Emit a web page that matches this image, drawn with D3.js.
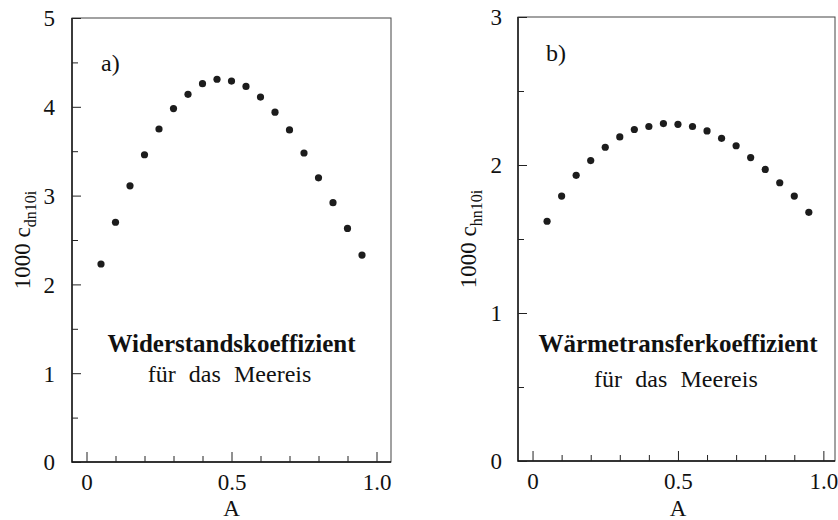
<!DOCTYPE html>
<html>
<head>
<meta charset="utf-8">
<script src="https://cdn.jsdelivr.net/npm/d3@7"></script>
<style>
  html, body { margin: 0; padding: 0; background: #fff; }
  svg { display: block; }
</style>
</head>
<body>
<svg id="chart"></svg>
<script>
const width = 838;
const height = 520;
const serif = "'Liberation Serif', 'Times New Roman', 'DejaVu Serif', serif";

// Ice concentration A (x values, shared by both panels)
const aValues = [0.05, 0.10, 0.15, 0.20, 0.25, 0.30, 0.35, 0.40, 0.45, 0.50,
  0.55, 0.60, 0.65, 0.70, 0.75, 0.80, 0.85, 0.90, 0.95];
// a) drag coefficient, 1000 c_dn10i
const dragValues = [2.23, 2.70, 3.11, 3.46, 3.75, 3.98, 4.14, 4.26, 4.31, 4.29,
  4.23, 4.11, 3.94, 3.74, 3.48, 3.20, 2.92, 2.63, 2.33];
// b) heat transfer coefficient, 1000 c_hn10i
const heatValues = [1.62, 1.79, 1.93, 2.03, 2.12, 2.19, 2.24, 2.26, 2.28, 2.275,
  2.26, 2.23, 2.18, 2.13, 2.05, 1.97, 1.88, 1.79, 1.68];

const xMajorTicks = [0, 0.5, 1.0];
const xTickLabels = ['0', '0.5', '1.0'];
const xMinorTicks = [0.1, 0.2, 0.3, 0.4, 0.6, 0.7, 0.8, 0.9];
const dragTicks = [0, 1, 2, 3, 4, 5];
const dragMinorTicks = [0.5, 1.5, 2.5, 3.5, 4.5];
const heatTicks = [0, 1, 2, 3];
const heatMinorTicks = [0.5, 1.5, 2.5];

const svg = d3.select('#chart').attr('width', width).attr('height', height);
svg.append('rect').attr('width', width).attr('height', height).attr('fill', '#fff');

/**
 * Draws one scatter panel with its frame, inward ticks and captions.
 */
function drawPanel(cfg) {
  const g = svg.append('g').attr('font-family', serif).attr('fill', '#111');
  const x = d3.scaleLinear().domain(cfg.xDomain).range([cfg.left, cfg.right]);
  const y = d3.scaleLinear().domain([0, cfg.yMax]).range([cfg.bottom, cfg.top]);

  // Frame: top/right lighter, left/bottom axis lines darker
  g.append('rect')
    .attr('x', cfg.left).attr('y', cfg.top)
    .attr('width', cfg.right - cfg.left).attr('height', cfg.bottom - cfg.top)
    .attr('fill', 'none').attr('stroke', '#444').attr('stroke-width', 1);
  g.append('path')
    .attr('d', `M${cfg.left},${cfg.top}V${cfg.bottom}H${cfg.right}`)
    .attr('fill', 'none').attr('stroke', '#111').attr('stroke-width', 1.4);

  // x axis, ticks pointing up into the plot
  const xMinor = g.append('g').attr('transform', `translate(0,${cfg.bottom})`)
    .call(d3.axisBottom(x).tickValues(xMinorTicks).tickSize(-6).tickFormat(''));
  const xMajor = g.append('g').attr('transform', `translate(0,${cfg.bottom})`)
    .call(d3.axisBottom(x).tickValues(xMajorTicks).tickSize(-10)
      .tickFormat((d, i) => xTickLabels[i]));
  xMajor.selectAll('text').attr('y', 28).attr('dy', null);

  // y axis, ticks pointing right into the plot
  const yMinor = g.append('g').attr('transform', `translate(${cfg.left},0)`)
    .call(d3.axisLeft(y).tickValues(cfg.yMinor).tickSize(-6).tickFormat(''));
  const yMajor = g.append('g').attr('transform', `translate(${cfg.left},0)`)
    .call(d3.axisLeft(y).tickValues(cfg.yTicks).tickSize(-9).tickFormat(d3.format('d')));
  yMajor.selectAll('text').attr('x', -cfg.labelGap).attr('dy', '0.34em');

  [xMinor, xMajor, yMinor, yMajor].forEach((a) => {
    a.select('.domain').remove();
    a.selectAll('line').attr('stroke', '#222').attr('stroke-width', 1);
    a.attr('font-family', serif).attr('font-size', '23px');
    a.selectAll('text').attr('fill', '#111');
  });

  // Data points
  g.append('g').selectAll('circle')
    .data(cfg.values)
    .join('circle')
    .attr('cx', (d, i) => x(aValues[i]))
    .attr('cy', (d) => y(d))
    .attr('r', 3.6)
    .attr('fill', '#1c1c1c');

  // Axis titles
  g.append('text')
    .attr('x', x(0.5)).attr('y', 516)
    .attr('text-anchor', 'middle').attr('font-size', '23px')
    .text('A');
  const yl = g.append('text')
    .attr('transform', `translate(${cfg.yLabelX},${(cfg.top + cfg.bottom) / 2}) rotate(-90)`)
    .attr('text-anchor', 'middle').attr('font-size', '23px');
  yl.append('tspan').text('1000 c');
  yl.append('tspan').attr('font-size', '16px').attr('dy', 6).text(cfg.sub);

  // Panel tag and caption
  g.append('text')
    .attr('x', cfg.tag[0]).attr('y', cfg.tag[1])
    .attr('font-size', '24px').text(cfg.tagText);
  g.append('text')
    .attr('x', x(0.5)).attr('y', 352)
    .attr('text-anchor', 'middle').attr('font-size', '25px').attr('font-weight', 'bold')
    .text(cfg.title);
  g.append('text')
    .attr('x', x(0.5) - 2).attr('y', cfg.line2Y)
    .attr('text-anchor', 'middle').attr('font-size', '24px')
    .attr('word-spacing', '0.3em')
    .text('für das Meereis');
}

drawPanel({
  left: 72, right: 391, top: 18, bottom: 462,
  xDomain: [-0.05, 1.05], yMax: 5,
  yTicks: dragTicks, yMinor: dragMinorTicks,
  values: dragValues, labelGap: 17, yLabelX: 30, sub: 'dn10i',
  tag: [101, 71], tagText: 'a)',
  title: 'Widerstandskoeffizient', line2Y: 382,
});

drawPanel({
  left: 518, right: 835, top: 17, bottom: 461,
  xDomain: [-0.05, 1.04], yMax: 3,
  yTicks: heatTicks, yMinor: heatMinorTicks,
  values: heatValues, labelGap: 16, yLabelX: 476, sub: 'hn10i',
  tag: [546, 61], tagText: 'b)',
  title: 'Wärmetransferkoeffizient', line2Y: 387,
});
</script>
</body>
</html>
